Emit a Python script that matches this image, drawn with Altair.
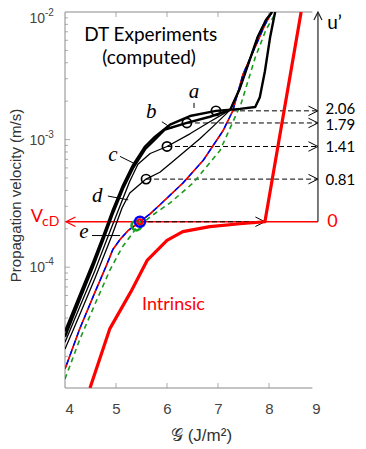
import altair as alt
import pandas as pd

# ---------------- data (G in J/m^2, v in m/s) ----------------
y_min, y_max = 1.13e-5, 1.0e-2

# curve e (base, black thin + red/blue dashed)
G_e = [4.00, 4.29, 4.59, 4.82, 4.94, 5.08, 5.24, 5.47, 5.67, 5.86, 6.31, 6.71, 7.10, 7.29, 7.49, 7.75, 7.92, 8.06]
v_e = [1.59e-5, 3.30e-5, 6.40e-5, 1.05e-4, 1.38e-4, 1.65e-4, 1.94e-4, 2.27e-4, 2.62e-4, 3.08e-4,
       4.56e-4, 6.87e-4, 1.175e-3, 1.68e-3, 3.25e-3, 5.55e-3, 7.94e-3, 1.0e-2]

# green dashed
G_g = [4.00, 4.29, 4.59, 4.88, 5.12, 5.39, 5.67, 6.06, 6.51, 7.04, 7.45, 7.73, 7.94, 8.14]
v_g = [1.33e-5, 2.72e-5, 5.16e-5, 9.48e-5, 1.43e-4, 2.00e-4, 2.48e-4, 3.19e-4, 4.56e-4, 8.22e-4,
       1.90e-3, 4.40e-3, 7.24e-3, 1.0e-2]

# intrinsic (thick red)
G_in = [4.49, 4.88, 5.29, 5.61, 6.00, 6.31, 6.84, 7.43, 7.92, 8.63]
v_in = [1.13e-5, 3.30e-5, 6.40e-5, 1.13e-4, 1.62e-4, 1.90e-4, 2.08e-4, 2.19e-4, 2.27e-4, 1.0e-2]

# curve a
G_a = [4.00, 4.29, 4.55, 4.76, 4.94, 5.14, 5.33, 5.57, 5.76, 6.06, 6.45, 6.96, 7.43, 7.73, 7.82, 7.92, 8.02, 8.12]
v_a = [3.13e-5, 6.07e-5, 1.09e-4, 1.80e-4, 2.82e-4, 4.40e-4, 6.28e-4, 8.83e-4, 1.05e-3, 1.31e-3,
       1.53e-3, 1.68e-3, 1.74e-3, 1.80e-3, 2.15e-3, 3.43e-3, 6.28e-3, 1.0e-2]

# curve b
G_b = [4.00, 4.29, 4.55, 4.76, 4.94, 5.14, 5.33, 5.57, 5.76, 5.96, 6.39, 6.84, 7.24, 7.43, 7.61, 7.78, 7.94, 8.06]
v_b = [2.85e-5, 5.60e-5, 1.01e-4, 1.68e-4, 2.65e-4, 4.15e-4, 5.95e-4, 8.40e-4, 1.00e-3, 1.20e-3,
       1.35e-3, 1.51e-3, 1.71e-3, 2.53e-3, 4.09e-3, 6.40e-3, 8.67e-3, 1.0e-2]

# curve c
G_c = [4.00, 4.29, 4.59, 4.82, 5.08, 5.27, 5.43, 5.67, 6.00, 6.45, 6.84, 7.24, 7.43, 7.61, 7.78, 7.94, 8.06]
v_c = [2.58e-5, 4.90e-5, 9.48e-5, 1.65e-4, 3.03e-4, 4.72e-4, 6.40e-4, 7.78e-4, 8.83e-4, 1.11e-3,
       1.38e-3, 1.71e-3, 2.53e-3, 4.09e-3, 6.40e-3, 8.67e-3, 1.0e-2]

# curve d
G_d = [4.00, 4.29, 4.59, 4.92, 5.12, 5.27, 5.59, 5.86, 6.12, 6.65, 6.94, 7.24, 7.43, 7.61, 7.78, 7.94, 8.06]
v_d = [2.28e-5, 4.25e-5, 8.22e-5, 1.77e-4, 2.92e-4, 3.81e-4, 4.90e-4, 5.55e-4, 6.75e-4, 1.02e-3,
       1.31e-3, 1.71e-3, 2.53e-3, 4.09e-3, 6.40e-3, 8.67e-3, 1.0e-2]

# marked points (circles) and u' values
circle_G = [6.96, 6.39, 6.00, 5.59]
circle_v = [1.68e-3, 1.35e-3, 8.83e-4, 4.90e-4]
u_labels = ["2.06", "1.79", "1.41", "0.81"]
G_cD, v_cD = 5.47, 2.27e-4
G_cD_green, v_cD_green = 5.40, 2.12e-4
G_knee = 7.92
G_uaxis = 8.96
G_left_arrow = 4.02
G_numlabel = 9.11
v_u_label = 8.22e-3

# curve name labels and pointer lines
names = ["a", "b", "c", "d", "e"]
name_G = [6.53, 5.69, 4.94, 4.63, 4.37]
name_v = [2.36e-3, 1.65e-3, 7.52e-4, 3.61e-4, 1.87e-4]
ptr_G1 = [6.53, 5.90, 5.08, 4.84, 4.53]
ptr_G2 = [6.53, 6.10, 5.35, 5.24, 5.08]
ptr_v1 = [1.94e-3, 1.38e-3, 7.38e-4, 3.61e-4, 1.77e-4]
ptr_v2 = [1.77e-3, 1.22e-3, 6.52e-4, 3.37e-4, 1.77e-4]

# axis ticks
x_ticks = [4, 5, 6, 7, 8, 9]
x_inner_ticks = [5, 6, 7, 8]
y_major = [1e-2, 1e-3, 1e-4]
y_major_sup = ["-2", "-3", "-4"]
y_minor = [2e-5, 3e-5, 4e-5, 5e-5, 6e-5, 7e-5, 8e-5, 9e-5,
           2e-4, 3e-4, 4e-4, 5e-4, 6e-4, 7e-4, 8e-4, 9e-4,
           2e-3, 3e-3, 4e-3, 5e-3, 6e-3, 7e-3, 8e-3, 9e-3]
G_frame_end = 8.85

# ---------------- chart ----------------
W, H = 255, 376
XS = alt.Scale(domain=[4, 9], nice=False, zero=False)
YS = alt.Scale(type="log", domain=[y_min, y_max], nice=False)
AX = "#8a8a8a"
SANS = "Liberation Sans"
ANN = "Lato"

xaxis = alt.Axis(values=x_ticks, format="d", ticks=False, domain=False, grid=False,
                 labelFont=SANS, labelFontSize=15, labelColor="#444", labelPadding=13,
                 title="𝒢 (J/m²)", titleFont=SANS, titleFontSize=17, titleFontWeight="normal",
                 titleColor="#333", titleX=136, titleY=47, titleBaseline="middle", titleAlign="center")
yaxis = alt.Axis(labels=False, ticks=False, domain=False, grid=False,
                 title="Propagation velocity (m/s)", titleFont=SANS, titleFontSize=15,
                 titleFontWeight="normal", titleColor="#333", titleX=-50, titleY=183,
                 titleAngle=270, titleBaseline="middle", titleAlign="center")


def X(f="G"):
    return alt.X(f + ":Q", scale=XS, axis=xaxis)


def Y(f="v"):
    return alt.Y(f + ":Q", scale=YS, axis=yaxis)


def curve_df(G, v):
    return pd.DataFrame({"G": G, "v": v, "i": list(range(len(G)))})


def line(G, v, color, width, dash=None, offset=None):
    kw = dict(color=color, strokeWidth=width, clip=True, strokeJoin="round")
    if dash is not None:
        kw["strokeDash"] = dash
    if offset is not None:
        kw["strokeDashOffset"] = offset
    return alt.Chart(curve_df(G, v)).mark_line(**kw).encode(x=X(), y=Y(), order="i:Q")


host = line(G_e, v_e, "black", 1.2)

# frame lines
frame_h = alt.Chart(pd.DataFrame({"G": [4, 4], "G2": [G_frame_end, G_frame_end], "v": [y_min, y_max]})).mark_rule(
    color=AX, strokeWidth=1).encode(x=X(), x2="G2:Q", y=Y())
frame_v = alt.Chart(pd.DataFrame({"G": [4], "v": [y_min], "v2": [y_max]})).mark_rule(
    color=AX, strokeWidth=1).encode(x=X(), y=Y(), y2="v2:Q")

# inward ticks
yt_major = alt.Chart(pd.DataFrame({"v": y_major[1:]})).mark_tick(size=5, thickness=1, color=AX).encode(
    y=Y(), x=alt.value(2.5))
yt_minor = alt.Chart(pd.DataFrame({"v": y_minor})).mark_tick(size=3, thickness=1, color=AX).encode(
    y=Y(), x=alt.value(1.5))
xt_bot = alt.Chart(pd.DataFrame({"G": x_inner_ticks})).mark_tick(size=5, thickness=1, color=AX).encode(
    x=X(), y=alt.value(H - 2.5))
xt_top = alt.Chart(pd.DataFrame({"G": x_inner_ticks})).mark_tick(size=5, thickness=1, color=AX).encode(
    x=X(), y=alt.value(2.5))

# y tick labels 10^n (top one nudged down so it stays inside the page)
ylab_top_df = pd.DataFrame({"v": y_major[:1], "t": ["10"], "s": y_major_sup[:1]})
ylab_df = pd.DataFrame({"v": y_major[1:], "t": ["10"] * 2, "s": y_major_sup[1:]})


def ylabels(df, shift):
    base = alt.Chart(df).mark_text(font=SANS, fontSize=14, color="#444", align="right", baseline="middle",
                                   dy=1 + shift).encode(y=Y(), x=alt.value(-20), text="t:N")
    sup = alt.Chart(df).mark_text(font=SANS, fontSize=10, color="#444", align="left", baseline="middle",
                                  dy=-5 + shift).encode(y=Y(), x=alt.value(-20), text="s:N")
    return [base, sup]


ylayers = ylabels(ylab_df, 0) + ylabels(ylab_top_df, 6)

# red v_cD line with left arrow
red_rule = alt.Chart(pd.DataFrame({"G": [G_left_arrow], "G2": [G_uaxis], "v": [v_cD]})).mark_rule(
    color="#ff0000", strokeWidth=1.3).encode(x=X(), x2="G2:Q", y=Y())
red_head = alt.Chart(pd.DataFrame({"G": [G_left_arrow], "v": [v_cD]})).mark_point(
    shape="M2,-1L0,0L2,1", size=90, filled=False, color="#ff0000", strokeWidth=1.3, opacity=1).encode(x=X(), y=Y())

# dashed arrows to u' axis
dash_df = pd.DataFrame({"G": circle_G + [G_cD], "G2": [G_uaxis] * 4 + [G_knee], "v": circle_v + [v_cD]})
dash_rules = alt.Chart(dash_df).mark_rule(color="black", strokeWidth=1, strokeDash=[5, 3]).encode(
    x=X(), x2="G2:Q", y=Y())
heads_df = pd.DataFrame({"G": [G_uaxis] * 4 + [G_knee], "v": circle_v + [v_cD]})
dash_heads = alt.Chart(heads_df).mark_point(shape="M-2,-1L0,0L-2,1", size=90, filled=False, color="black",
                                            strokeWidth=1, opacity=1).encode(x=X(), y=Y())

# u' vertical axis with arrow
u_rule = alt.Chart(pd.DataFrame({"G": [G_uaxis], "v": [v_cD], "v2": [y_max]})).mark_rule(
    color="#222", strokeWidth=1.2).encode(x=X(), y=Y(), y2="v2:Q")
u_head = alt.Chart(pd.DataFrame({"G": [G_uaxis], "v": [y_max]})).mark_point(
    shape="M-1,2L0,0L1,2", size=64, filled=False, color="#222", strokeWidth=1.2, opacity=1).encode(x=X(), y=Y())

# curves
green = line(G_g, v_g, "#1a9a1a", 1.6, [5, 4])
red_d = line(G_e, v_e, "#ff0000", 1.6, [5, 5])
blue_d = line(G_e, v_e, "#0000ff", 1.6, [5, 5], 5)
ca = line(G_a, v_a, "black", 2.4)
cb = line(G_b, v_b, "black", 2.4)
cc = line(G_c, v_c, "black", 1.3)
cd = line(G_d, v_d, "black", 1.3)
intr = line(G_in, v_in, "#ff0000", 3.2)

# circles
circ = alt.Chart(pd.DataFrame({"G": circle_G, "v": circle_v})).mark_point(
    shape="circle", size=85, filled=False, color="black", strokeWidth=1.7, opacity=1).encode(x=X(), y=Y())
circ_g = alt.Chart(pd.DataFrame({"G": [G_cD_green], "v": [v_cD_green]})).mark_point(
    shape="circle", size=95, filled=False, color="#1aa01a", strokeWidth=2.5, opacity=1).encode(x=X(), y=Y())
circ_b = alt.Chart(pd.DataFrame({"G": [G_cD], "v": [v_cD]})).mark_point(
    shape="circle", size=100, filled=False, color="#0000ff", strokeWidth=2.5, opacity=1).encode(x=X(), y=Y())
circ_r = alt.Chart(pd.DataFrame({"G": [G_cD], "v": [v_cD]})).mark_point(
    shape="circle", size=25, filled=False, color="#ff0000", strokeWidth=2, opacity=1).encode(x=X(), y=Y())

# name labels + pointers
ptr = alt.Chart(pd.DataFrame({"G": ptr_G1, "G2": ptr_G2, "v": ptr_v1, "v2": ptr_v2})).mark_rule(
    color="black", strokeWidth=1).encode(x=X(), x2="G2:Q", y=Y(), y2="v2:Q")
name_txt = alt.Chart(pd.DataFrame({"G": name_G, "v": name_v, "t": names})).mark_text(
    font="Liberation Serif", fontStyle="italic", fontSize=21, color="black", align="center", baseline="middle").encode(
    x=X(), y=Y(), text="t:N")

# annotation texts
title_txt = alt.Chart(pd.DataFrame({"G": [5.68, 5.65], "v": [6.64e-3, 4.39e-3],
                                    "t": ["DT Experiments", "(computed)"]})).mark_text(
    font=ANN, fontSize=19, color="black", align="center", baseline="middle").encode(x=X(), y=Y(), text="t:N")
intr_txt = alt.Chart(pd.DataFrame({"G": [5.51], "v": [5.07e-5], "t": ["Intrinsic"]})).mark_text(
    font=ANN, fontSize=18, color="#ff0000", align="left", baseline="middle").encode(x=X(), y=Y(), text="t:N")


def num_label(idx, shift):
    df = pd.DataFrame({"G": [G_numlabel] * len(idx), "v": [circle_v[i] for i in idx], "t": [u_labels[i] for i in idx]})
    return alt.Chart(df).mark_text(font=ANN, fontSize=15, color="black", align="left", baseline="middle",
                                   dy=shift).encode(x=X(), y=Y(), text="t:N")


num_layers = [num_label([0], -2), num_label([1], 2), num_label([2, 3], 1)]
zero_txt = alt.Chart(pd.DataFrame({"G": [G_numlabel + 0.03], "v": [v_cD], "t": ["0"]})).mark_text(
    font=ANN, fontSize=18, color="#ff0000", align="left", baseline="middle").encode(x=X(), y=Y(), text="t:N")
u_txt = alt.Chart(pd.DataFrame({"G": [G_numlabel + 0.03], "v": [v_u_label], "t": ["u’"]})).mark_text(
    font=ANN, fontSize=19, color="black", align="left", baseline="middle").encode(x=X(), y=Y(), text="t:N")
vcd_V = alt.Chart(pd.DataFrame({"G": [3.33], "v": [v_cD], "t": ["V"]})).mark_text(
    font=ANN, fontSize=18, color="#ff0000", align="left", baseline="alphabetic", dy=0).encode(x=X(), y=Y(), text="t:N")
vcd_sub = alt.Chart(pd.DataFrame({"G": [3.55], "v": [v_cD], "t": ["cD"]})).mark_text(
    font=ANN, fontSize=14, color="#ff0000", align="left", baseline="alphabetic", dy=4).encode(x=X(), y=Y(), text="t:N")

chart = alt.layer(
    host, frame_h, frame_v, yt_major, yt_minor, xt_bot, xt_top, *ylayers,
    red_rule, red_head, dash_rules, dash_heads, u_rule, u_head,
    green, red_d, blue_d, ca, cb, cc, cd, intr,
    circ, circ_g, circ_b, circ_r, ptr, name_txt,
    title_txt, intr_txt, *num_layers, zero_txt, u_txt, vcd_V, vcd_sub,
).properties(
    width=W, height=H,
    autosize=alt.AutoSizeParams(type="none"),
    padding={"left": 57, "top": 4, "right": 38, "bottom": 59},
).configure_view(stroke=None)

chart.save("out.html", embed_options={"renderer": "svg", "actions": False})
